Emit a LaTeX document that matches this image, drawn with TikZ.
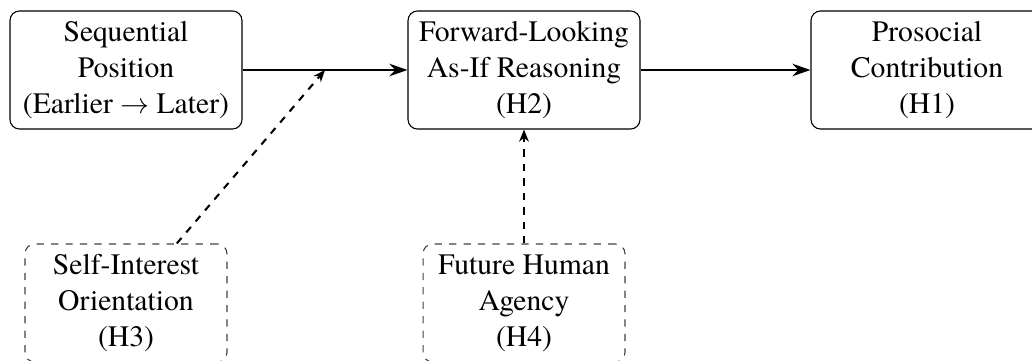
\documentclass[tikz,border=0pt]{standalone}
\usepackage{fontspec}
\setmainfont{texgyretermes}[Extension=.otf, UprightFont=*-regular, BoldFont=*-bold, ItalicFont=*-italic, BoldItalicFont=*-bolditalic]
\usetikzlibrary{arrows.meta}
\tikzset{
  box/.style={draw=black, line width=0.45pt, rounded corners=4pt, align=center,
    minimum width=96.3pt, minimum height=49pt, inner sep=2pt,
    font=\fontsize{12.3}{14.9}\selectfont},
  dbox/.style={box, draw=black!75, dashed, minimum width=83.8pt},
  mainarrow/.style={line width=0.85pt, -{Stealth[length=7.5pt,width=5.2pt]}},
  dasharrow/.style={line width=0.85pt, dashed, -{Stealth[length=5pt,width=4pt]}}
}
\begin{document}
\begin{tikzpicture}[x=0.415pt, y=-0.415pt]
  \clip (0,0) rectangle (1032,360);
  \node[box] (seq) at (126,70) {Sequential\\Position\\(Earlier $\rightarrow$ Later)};
  \node[box] (fwd) at (524,70) {Forward-Looking\\As-If Reasoning\\(H2)};
  \node[box] (pro) at (927,70) {Prosocial\\Contribution\\(H1)};
  \node[dbox] (self) at (126,303) {Self-Interest\\Orientation\\(H3)};
  \node[dbox] (fut) at (524,303) {Future Human\\Agency\\(H4)};
  \draw[mainarrow] (seq) -- coordinate[midway] (m) (fwd);
  \draw[mainarrow] (fwd) -- (pro);
  \draw[dasharrow] (self) -- (m);
  \draw[dasharrow] (fut) -- (fwd);
\end{tikzpicture}
\end{document}
